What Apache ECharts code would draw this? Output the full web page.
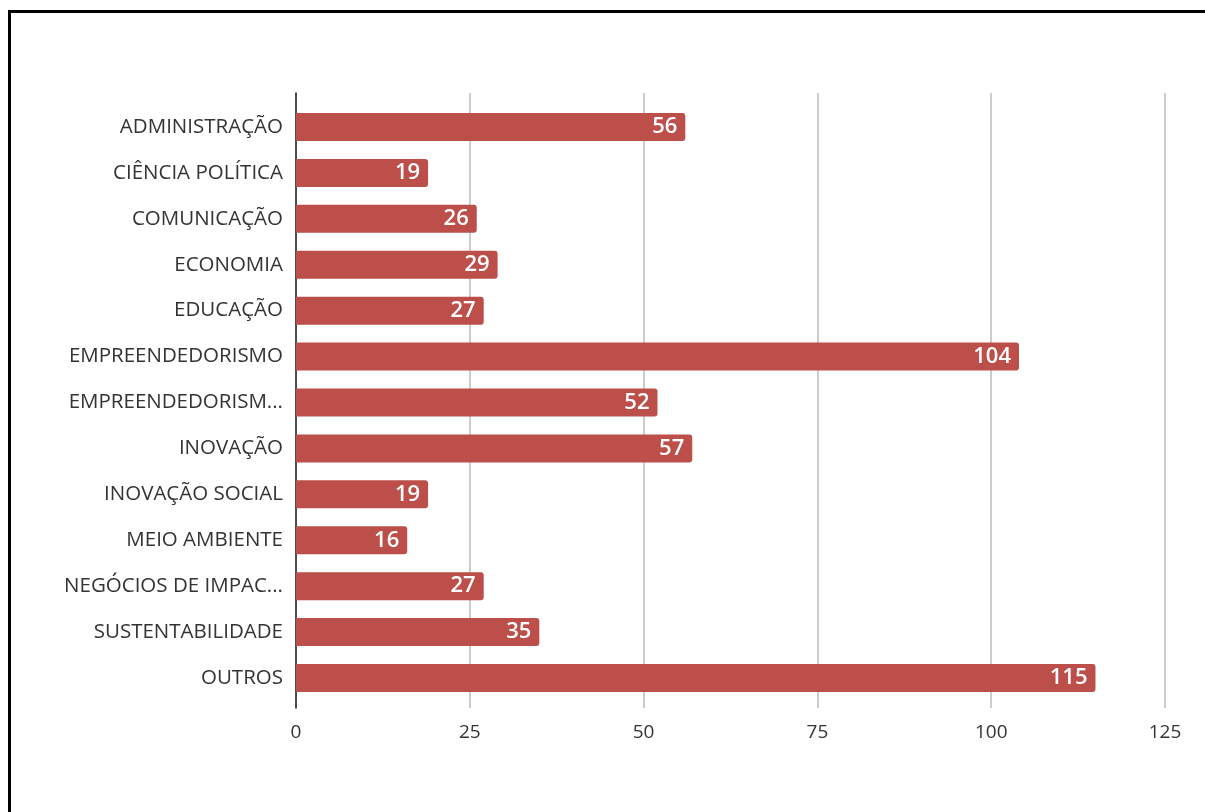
<!DOCTYPE html>
<html>
<head>
<meta charset="utf-8">
<script src="https://cdn.jsdelivr.net/npm/echarts@6/dist/echarts.min.js"></script>
<style>
  html, body { margin: 0; padding: 0; background: #fff; }
  #chart { width: 1205px; height: 812px; }
</style>
</head>
<body>
<div id="chart"></div>
<script>
// Áreas de interesse e número de respostas
const categories = [
  'ADMINISTRAÇÃO', 'CIÊNCIA POLÍTICA', 'COMUNICAÇÃO', 'ECONOMIA', 'EDUCAÇÃO',
  'EMPREENDEDORISMO', 'EMPREENDEDORISM...', 'INOVAÇÃO', 'INOVAÇÃO SOCIAL',
  'MEIO AMBIENTE', 'NEGÓCIOS DE IMPAC...', 'SUSTENTABILIDADE', 'OUTROS'
];
const values = [56, 19, 26, 29, 27, 104, 52, 57, 19, 16, 27, 35, 115];
const xMin = 0, xMax = 125, xStep = 25;

const chart = echarts.init(document.getElementById('chart'), null, { renderer: 'canvas' });
const font = '"Open Sans", "Noto Sans", sans-serif';

chart.setOption({
  animation: false,
  backgroundColor: '#ffffff',
  graphic: [{
    type: 'rect',
    shape: { x: 9.5, y: 11.5, width: 1300, height: 900 },
    style: { fill: 'none', stroke: '#000', lineWidth: 3 },
    silent: true
  }],
  grid: [
    // frame with gridlines, tick labels and the left axis line
    { left: 296, width: 869, top: 93, height: 615, containLabel: false },
    // bars
    { left: 296, width: 869, top: 104, height: 597, containLabel: false }
  ],
  xAxis: [
    {
      gridIndex: 0, type: 'value', min: xMin, max: xMax, interval: xStep,
      axisLine: { show: false }, axisTick: { show: false },
      splitLine: { lineStyle: { color: '#cccccc', width: 2 } },
      axisLabel: { color: '#333', fontSize: 19, fontFamily: font, margin: 15 }
    },
    {
      gridIndex: 1, type: 'value', min: xMin, max: xMax, interval: xStep,
      axisLine: { show: false }, axisTick: { show: false },
      splitLine: { show: false }, axisLabel: { show: false }
    }
  ],
  yAxis: [
    {
      gridIndex: 0, type: 'category', data: [''],
      axisLine: { show: true, lineStyle: { color: '#222', width: 1.5 } },
      axisTick: { show: false }, axisLabel: { show: false }, splitLine: { show: false }
    },
    {
      gridIndex: 1, type: 'category', data: categories, inverse: true,
      axisLine: { show: false }, axisTick: { show: false },
      axisLabel: { color: '#333', fontSize: 20.5, fontFamily: font, margin: 13 }
    }
  ],
  series: [{
    type: 'bar',
    xAxisIndex: 1, yAxisIndex: 1,
    data: values,
    barWidth: 28,
    itemStyle: { color: '#bd4f4b', borderRadius: [0, 3, 3, 0] },
    label: {
      show: true, position: 'insideRight', distance: 8,
      color: '#fff', fontSize: 22, fontWeight: 600, fontFamily: font
    }
  }]
});
</script>
</body>
</html>
